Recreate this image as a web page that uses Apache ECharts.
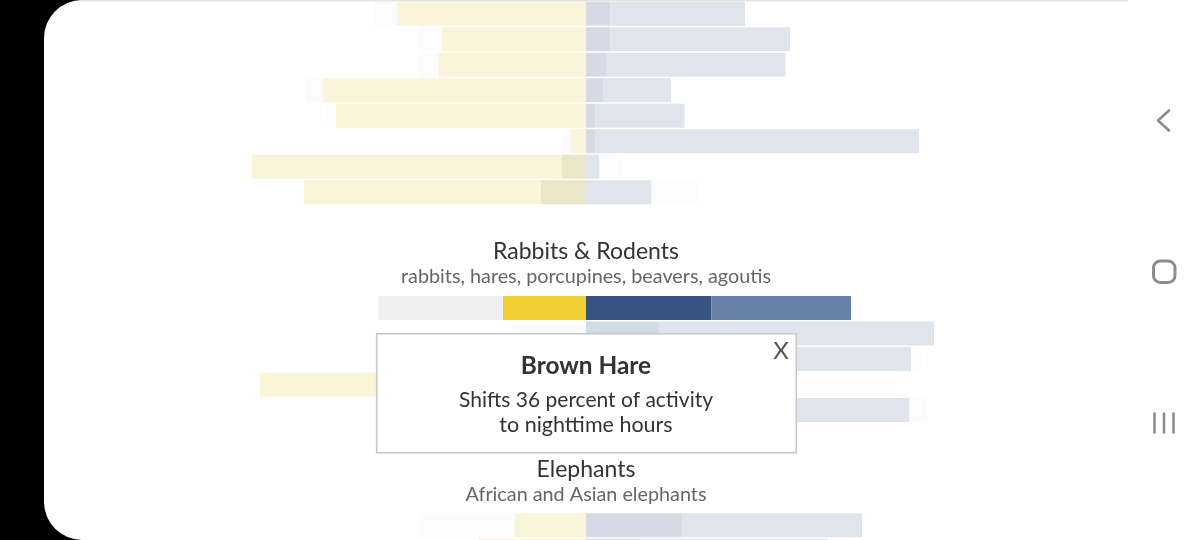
<!DOCTYPE html>
<html><head><meta charset="utf-8">
<style>html,body{margin:0;padding:0;background:#fff}#c{width:1200px;height:540px}</style>
<script src="https://cdn.jsdelivr.net/npm/echarts@6/dist/echarts.min.js"></script>
</head><body><div id="c"></div>
<script>
// Upper group (name cut off in the picture)
const upperKinds = ['A','A','A','A','A','A','B','B'];
const upperCats = ['r1','r2','r3','r4','r5','r6','r7','r8'];
const upperLeftInner = [37.8,28.8,29.5,52.6,50,3,4.8,9.1];
const upperLeftOuter = [4.6,4.7,4,3.4,1.8,1.6,62,47.3];
const upperRightInner = [4.9,4.9,4,3.4,1.8,1.8,2.7,13.1];
const upperRightOuter = [26.9,35.9,35.9,13.6,17.9,64.8,4.7,9.2];
// Rabbits & Rodents
const rabbitKinds = ['H','G','B','B','B'];
const rabbitCats = ['All','Row 2','Brown Hare','Row 4','Row 5'];
const rabbitLeftInner = [16.6,14.6,4,5,3];
const rabbitLeftOuter = [25,0,20,60.2,15];
const rabbitRightInner = [25.1,14.6,65,20,64.7];
const rabbitRightOuter = [27.9,55,2,42,3.5];
// Elephants
const elephantKinds = ['A','A'];
const elephantCats = ['All','Row 2'];
const elephantLeftInner = [14.3,21.6];
const elephantLeftOuter = [19,0];
const elephantRightInner = [19.2,10.8];
const elephantRightOuter = [36,37.4];

const YEL='#FAF5D9',TAN='#ECE6C8',FNT='#FCFCFC',DRK='#D4DBE5',LGT='#E0E4ED';
const palette = {
  A:[YEL,FNT,DRK,LGT],
  B:[TAN,YEL,LGT,FNT],
  G:[FNT,FNT,DRK,LGT],
  H:['#EFCE33','#EFEFEF','#36547F','#6881A9']
};
const groups = [
  {top:0.95,cats:upperCats,kinds:upperKinds,vals:[upperLeftInner,upperLeftOuter,upperRightInner,upperRightOuter]},
  {top:295.3,cats:rabbitCats,kinds:rabbitKinds,vals:[rabbitLeftInner,rabbitLeftOuter,rabbitRightInner,rabbitRightOuter]},
  {top:512.6,cats:elephantCats,kinds:elephantKinds,vals:[elephantLeftInner,elephantLeftOuter,elephantRightInner,elephantRightOuter]}
];
const PITCH=25.5, grid=[],xAxis=[],yAxis=[],series=[];
groups.forEach((g,gi)=>{
  grid.push({left:86,width:1000,top:g.top,height:PITCH*g.cats.length,outerBoundsMode:'none',containLabel:false});
  xAxis.push({gridIndex:gi,type:'value',min:-100,max:100,show:false});
  yAxis.push({gridIndex:gi,type:'category',inverse:true,data:g.cats,show:false});
  g.vals.forEach((arr,si)=>{
    series.push({type:'bar',xAxisIndex:gi,yAxisIndex:gi,stack:'g'+gi,barWidth:24,silent:true,z:2,clip:false,
      data:arr.map((v,i)=>({value:si<2?-v:v,itemStyle:{color:palette[g.kinds[i]][si]}}))});
  });
});
const FONT='Lato, "Noto Sans", sans-serif';
const t=(text,x,y,size,fill,weight)=>({type:'text',z:60,silent:true,x:x,y:y,
  style:{text:text,fill:fill,font:(weight||400)+' '+size+'px '+FONT,textAlign:'center',textVerticalAlign:'middle'}});
const NAV='#8c8c8c';
const graphic=[
  {type:'rect',z:-2,silent:true,shape:{x:0,y:0,width:100,height:540},style:{fill:'#000'}},
  {type:'rect',z:-1,silent:true,shape:{x:44,y:0,width:1160,height:540,r:[38,0,0,38]},style:{fill:'#fff'}},
  {type:'rect',z:50,silent:true,shape:{x:80,y:0,width:1048,height:1.6},style:{fill:'#e4e4e4'}},
  t('Rabbits & Rodents',586,252,23,'#333'),
  t('rabbits, hares, porcupines, beavers, agoutis',586,277,19.8,'#666'),
  t('Elephants',586,470,23,'#333'),
  t('African and Asian elephants',586,495,19.8,'#666'),
  {type:'rect',z:55,silent:true,shape:{x:376.7,y:333.7,width:419.6,height:119},style:{fill:'#fff',stroke:'#c8c8c8',lineWidth:1.6}},
  t('Brown Hare',586,366,24.4,'#333',700),
  t('Shifts 36 percent of activity',586,400,21,'#333'),
  t('to nighttime hours',586,425,21.5,'#333'),
  t('X',781,351,24,'#555'),
  {type:'polyline',z:60,silent:true,shape:{points:[[1169,110.5],[1158,120.5],[1169,130.5]]},style:{stroke:NAV,fill:'none',lineWidth:2.6,lineCap:'round',lineJoin:'round'}},
  {type:'rect',z:60,silent:true,shape:{x:1153.5,y:261,width:21.5,height:21.5,r:7},style:{stroke:NAV,fill:'none',lineWidth:3}},
  {type:'line',z:60,silent:true,shape:{x1:1154.5,y1:413.5,x2:1154.5,y2:432.5},style:{stroke:NAV,lineWidth:2.6,lineCap:'round'}},
  {type:'line',z:60,silent:true,shape:{x1:1164,y1:413.5,x2:1164,y2:432.5},style:{stroke:NAV,lineWidth:2.6,lineCap:'round'}},
  {type:'line',z:60,silent:true,shape:{x1:1173.5,y1:413.5,x2:1173.5,y2:432.5},style:{stroke:NAV,lineWidth:2.6,lineCap:'round'}}
];
const chart=echarts.init(document.getElementById('c'),null,{renderer:'canvas'});
chart.setOption({animation:false,backgroundColor:'#fff',grid,xAxis,yAxis,series,graphic:{elements:graphic}});
</script></body></html>
